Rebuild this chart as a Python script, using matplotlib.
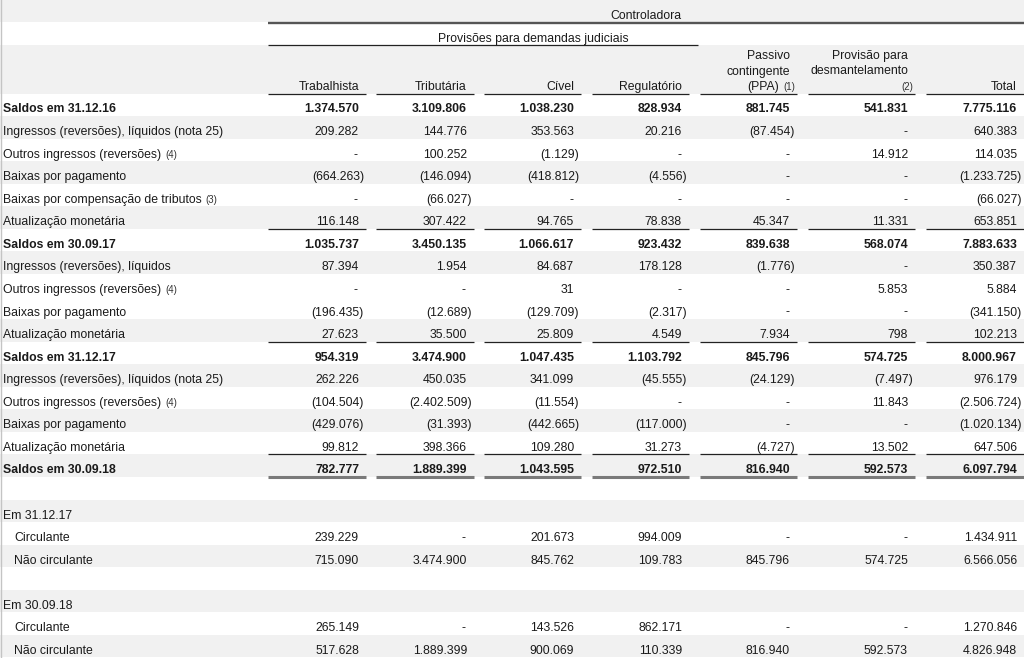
import matplotlib.pyplot as plt

plt.rcParams["font.family"] = ["Liberation Sans", "DejaVu Sans"]

# ---- table content -------------------------------------------------------
row_labels = [
    "Saldos em 31.12.16",
    "Ingressos (reversões), líquidos (nota 25)",
    "Outros ingressos (reversões)",
    "Baixas por pagamento",
    "Baixas por compensação de tributos",
    "Atualização monetária",
    "Saldos em 30.09.17",
    "Ingressos (reversões), líquidos",
    "Outros ingressos (reversões)",
    "Baixas por pagamento",
    "Atualização monetária",
    "Saldos em 31.12.17",
    "Ingressos (reversões), líquidos (nota 25)",
    "Outros ingressos (reversões)",
    "Baixas por pagamento",
    "Atualização monetária",
    "Saldos em 30.09.18",
    "",
    "Em 31.12.17",
    "Circulante",
    "Não circulante",
    "",
    "Em 30.09.18",
    "Circulante",
    "Não circulante",
]
row_notes = {2: "(4)", 4: "(3)", 8: "(4)", 13: "(4)"}
bold_rows = [0, 6, 11, 16]
indent_rows = [19, 20, 23, 24]
value_rows = list(range(17)) + [19, 20, 23, 24]

col_names = ["Trabalhista", "Tributária", "Cível", "Regulatório",
             "Passivo\ncontingente\n(PPA)", "Provisão para\ndesmantelamento\n", "Total"]
col_notes = {4: "(1)", 5: "(2)"}

trabalhista = [1374570, 209282, None, -664263, None, 116148, 1035737, 87394, None,
               -196435, 27623, 954319, 262226, -104504, -429076, 99812, 782777,
               239229, 715090, 265149, 517628]
tributaria = [3109806, 144776, 100252, -146094, -66027, 307422, 3450135, 1954, None,
              -12689, 35500, 3474900, 450035, -2402509, -31393, 398366, 1889399,
              None, 3474900, None, 1889399]
civel = [1038230, 353563, -1129, -418812, None, 94765, 1066617, 84687, 31,
         -129709, 25809, 1047435, 341099, -11554, -442665, 109280, 1043595,
         201673, 845762, 143526, 900069]
regulatorio = [828934, 20216, None, -4556, None, 78838, 923432, 178128, None,
               -2317, 4549, 1103792, -45555, None, -117000, 31273, 972510,
               994009, 109783, 862171, 110339]
passivo_ppa = [881745, -87454, None, None, None, 45347, 839638, -1776, None,
               None, 7934, 845796, -24129, None, None, -4727, 816940,
               None, 845796, None, 816940]
desmantelamento = [541831, None, 14912, None, None, 11331, 568074, None, 5853,
                   None, 798, 574725, -7497, 11843, None, 13502, 592573,
                   None, 574725, None, 592573]
total = [7775116, 640383, 114035, -1233725, -66027, 653851, 7883633, 350387, 5884,
         -341150, 102213, 8000967, 976179, -2506724, -1020134, 647506, 6097794,
         1434911, 6566056, 1270846, 4826948]
columns = [trabalhista, tributaria, civel, regulatorio, passivo_ppa, desmantelamento, total]

# ---- layout --------------------------------------------------------------
W, H = 1024, 658
GRAY = "#f1f1f1"
INK = "#1a1a1a"
NOTE_INK = "#333333"
FS = 8.8
FS_NOTE = 7.0
ROW_H = 22.56
TOP0 = 93.5
col_start = [268, 376, 484, 592, 700, 808, 926]
col_end = [366, 474, 581, 689, 797, 915, 1024]
col_right = [e - 7 for e in col_end]
gray_rows = [1, 3, 5, 7, 10, 12, 14, 16, 18, 20, 22, 24]


def fmt(v):
    if v is None:
        return "-"
    s = f"{abs(v):,}".replace(",", ".")
    return f"({s})" if v < 0 else s


fig = plt.figure(figsize=(W / 100, H / 100), dpi=100)
ax = fig.add_axes([0, 0, 1, 1])
ax.set_xlim(0, W)
ax.set_ylim(H, 0)
ax.axis("off")
renderer = fig.canvas.get_renderer()
inv = ax.transData.inverted()


def text_x_extent(t):
    bb = t.get_window_extent(renderer=renderer)
    x0 = inv.transform((bb.x0, bb.y0))[0]
    x1 = inv.transform((bb.x1, bb.y0))[0]
    return x0, x1


# header backgrounds
ax.axhspan(0, 22, color=GRAY, lw=0, zorder=0)
ax.axhspan(45, TOP0, color=GRAY, lw=0, zorder=0)
for r in gray_rows:
    top = TOP0 + r * ROW_H
    ax.axhspan(top, top + ROW_H, color=GRAY, lw=0, zorder=0)
ax.axvline(0.6, color="#c4c4c4", lw=1.0)

# header texts and rules
ax.text(646, 19, "Controladora", ha="center", va="baseline", fontsize=FS, color=INK)
ax.plot([268, 1024], [22.5, 22.5], color="#555555", lw=1.7, solid_capstyle="butt")
ax.text(533, 42, "Provisões para demandas judiciais", ha="center", va="baseline",
        fontsize=FS, color=INK)
ax.plot([268, 698], [45, 45], color="#222222", lw=0.9, solid_capstyle="butt")

for c, name in enumerate(col_names):
    lines = name.split("\n")
    for k, line in enumerate(reversed(lines)):
        y = 90 - k * 15.5
        if k == 0 and c in col_notes:
            note = ax.text(col_right[c] + 5, y, col_notes[c], ha="right", va="baseline",
                           fontsize=FS_NOTE, color=NOTE_INK)
            if line:
                nx0, _ = text_x_extent(note)
                ax.text(nx0 - 4, y, line, ha="right", va="baseline",
                        fontsize=FS, color=INK)
        elif line:
            ax.text(col_right[c] + (5 if line.endswith(")") else 0), y, line,
                    ha="right", va="baseline", fontsize=FS, color=INK)
    ax.plot([col_start[c], col_end[c]], [93.5, 93.5], color="#222222", lw=0.9,
            solid_capstyle="butt")

# body labels
for r, label in enumerate(row_labels):
    if not label:
        continue
    base = TOP0 + r * ROW_H + 19
    x = 14 if r in indent_rows else 3
    t = ax.text(x, base, label, ha="left", va="baseline", fontsize=FS, color=INK,
                fontweight="bold" if r in bold_rows else "normal")
    if r in row_notes:
        _, tx1 = text_x_extent(t)
        ax.text(tx1 + 4, base, row_notes[r], ha="left", va="baseline",
                fontsize=FS_NOTE, color=NOTE_INK)

# body values
for c, col in enumerate(columns):
    for i, r in enumerate(value_rows):
        v = col[i]
        base = TOP0 + r * ROW_H + 19
        if v is None:
            x = col_right[c] - 1
        elif v < 0:
            x = col_right[c] + 5
        else:
            x = col_right[c]
        ax.text(x, base, fmt(v), ha="right", va="baseline", fontsize=FS, color=INK,
                fontweight="bold" if r in bold_rows else "normal")

# subtotal rules above balance rows, double rule below the last balance
for r in bold_rows[1:]:
    y = TOP0 + r * ROW_H
    for c in range(len(columns)):
        ax.plot([col_start[c], col_end[c]], [y, y], color="#222222", lw=0.9,
                solid_capstyle="butt")
y_double = TOP0 + 17 * ROW_H - 0.5
for c in range(len(columns)):
    ax.plot([col_start[c], col_end[c]], [y_double, y_double], color="#7a7a7a", lw=2.2,
            solid_capstyle="butt")

fig.savefig("out.png", dpi=100)
